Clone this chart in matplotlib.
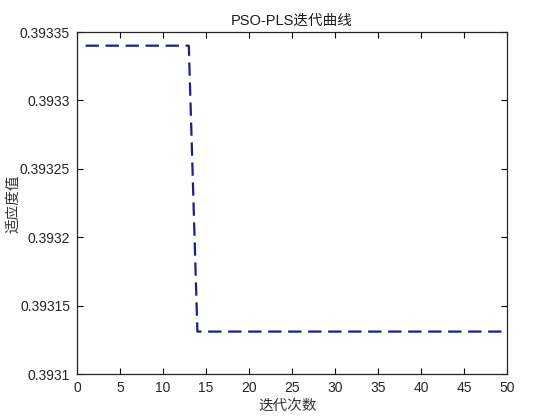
import matplotlib
matplotlib.use('Agg')
import matplotlib.pyplot as plt
import numpy as np

plt.rcParams['font.family'] = ['Liberation Sans', 'Noto Sans CJK SC', 'DejaVu Sans']

# fitness per iteration
iters = np.arange(1, 51)
fitness = [0.39334] * 13 + [0.393131] * 37

xticks = [0, 5, 10, 15, 20, 25, 30, 35, 40, 45, 50]
yticks = [0.3931, 0.39315, 0.3932, 0.39325, 0.3933, 0.39335]
ytick_labels = ['0.3931', '0.39315', '0.3932', '0.39325', '0.3933', '0.39335']

fig = plt.figure(figsize=(5.6, 4.2), dpi=100)
ax = fig.add_axes([77/560, 1 - 374/420, 430/560, 342/420])

ax.plot(iters, fitness, '--', color='#1e1e88', linewidth=1.6, dashes=(6, 3))

ax.set_xlim(0, 50)
ax.set_ylim(0.3931, 0.39335)
ax.set_xticks(xticks)
ax.set_yticks(yticks)
ax.set_yticklabels(ytick_labels)
ax.tick_params(direction='in', top=True, right=True, labelsize=10,
               labelcolor='#262626', length=4, width=0.8, pad=5)
for s in ax.spines.values():
    s.set_linewidth(0.9)
    s.set_color('#262626')

ax.set_title('PSO-PLS迭代曲线', fontsize=10.5, color='#1a1a1a', pad=5)
ax.set_xlabel('迭代次数', fontsize=10.5, color='#333333',
              family=['Noto Sans CJK SC'])
ax.set_ylabel('适应度值', fontsize=10.5, color='#333333',
              family=['Noto Sans CJK SC'])
ax.xaxis.set_label_coords(0.49, -0.072)
ax.yaxis.set_label_coords(-0.133, 0.497)

fig.savefig('out.png', dpi=100, facecolor='white')
